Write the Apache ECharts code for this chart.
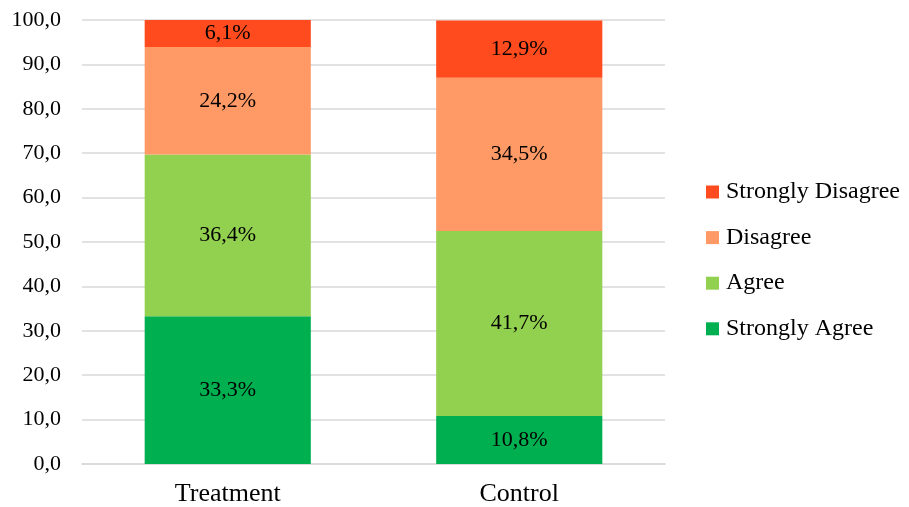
<!DOCTYPE html>
<html>
<head>
<meta charset="utf-8">
<script src="https://cdn.jsdelivr.net/npm/echarts@6/dist/echarts.min.js"></script>
<style>
  html, body { margin: 0; padding: 0; background: #fff; }
  #mychart { width: 909px; height: 507px; }
</style>
</head>
<body>
<div id="mychart"></div>
<script>
var categories = ['Treatment', 'Control']
var seriesNames = ['Strongly Agree', 'Agree', 'Disagree', 'Strongly Disagree']
var stronglyAgree = [33.3, 10.8]
var agree = [36.4, 41.7]
var disagree = [24.2, 34.5]
var stronglyDisagree = [6.1, 12.9]
var colors = ['#00B050', '#92D050', '#FF9966', '#FF4B1E']

var font = '"Liberation Serif", "DejaVu Serif", serif'
var values = [stronglyAgree, agree, disagree, stronglyDisagree]

var series = []
for (var i = 0; i < seriesNames.length; i++) {
    series.push({
        name: seriesNames[i],
        type: 'bar',
        stack: 'total',
        barWidth: '57%',
        itemStyle: { color: colors[i] },
        label: {
            show: true,
            position: 'inside',
            color: '#000',
            fontFamily: font,
            fontSize: 22,
            formatter: function (p) {
                return p.value.toFixed(1).replace('.', ',') + '%'
            }
        },
        data: values[i]
    })
}

var chart = echarts.init(document.getElementById('mychart'))
chart.setOption({
    backgroundColor: '#fff',
    animation: false,
    legend: {
        orient: 'vertical',
        left: 701,
        top: 175,
        data: seriesNames.slice().reverse(),
        icon: 'rect',
        itemWidth: 13,
        itemHeight: 13,
        itemGap: 21.6,
        textStyle: { fontFamily: font, fontSize: 24, color: '#000', padding: [0, 0, 0, 2] }
    },
    grid: {
        left: 82,
        right: 244,
        top: 20,
        bottom: 43
    },
    xAxis: {
        type: 'category',
        data: categories,
        axisTick: { show: false },
        axisLine: { lineStyle: { color: '#d9d9d9', width: 1.5 } },
        axisLabel: { color: '#000', fontFamily: font, fontSize: 26, margin: 17 }
    },
    yAxis: {
        type: 'value',
        min: 0,
        max: 100,
        interval: 10,
        axisLine: { show: false },
        axisTick: { show: false },
        splitLine: { lineStyle: { color: '#d9d9d9', width: 1.5 } },
        axisLabel: {
            color: '#000',
            fontFamily: font,
            fontSize: 22,
            margin: 21,
            formatter: function (v) { return v.toFixed(1).replace('.', ',') }
        }
    },
    series: series
})
</script>
</body>
</html>
